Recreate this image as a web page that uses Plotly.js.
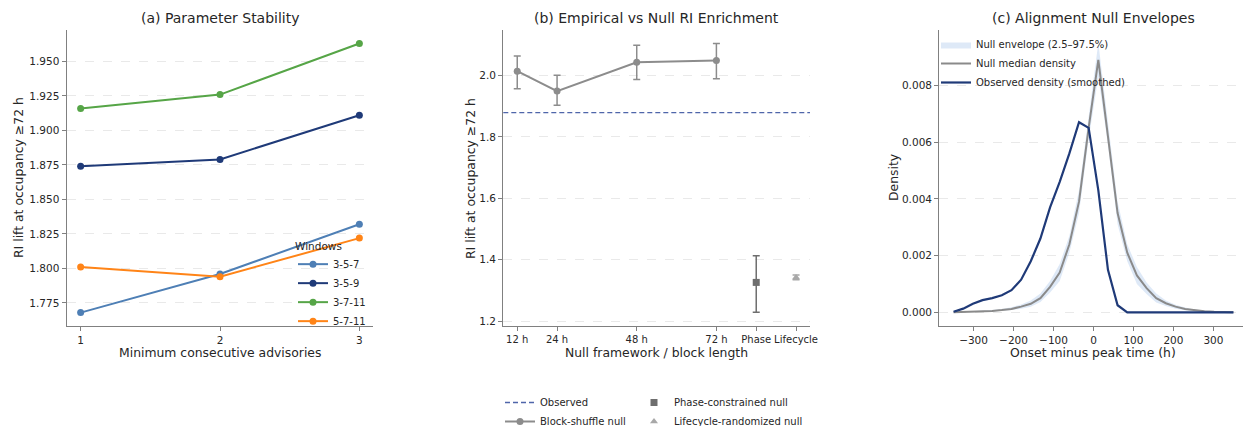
<!DOCTYPE html>
<html>
<head>
<meta charset="utf-8">
<script src="https://cdn.plot.ly/plotly-3.0.1.min.js"></script>
<style>html,body{margin:0;padding:0;background:#fff;}#chart{width:1243px;height:426px;}</style>
</head>
<body>
<div id="chart"></div>
<script>
// ---------- Panel (a) data ----------
const minConsecutive = [1, 2, 3];
const windowNames = ['3-5-7', '3-5-9', '3-7-11', '5-7-11'];
const lift_3_5_7 = [1.768, 1.796, 1.832];
const lift_3_5_9 = [1.874, 1.879, 1.911];
const lift_3_7_11 = [1.916, 1.926, 1.963];
const lift_5_7_11 = [1.801, 1.794, 1.822];

// ---------- Panel (b) data ----------
const nullTickPositions = [12, 24, 48, 72, 84, 96];
const nullTickLabels = ['12 h', '24 h', '48 h', '72 h', 'Phase', 'Lifecycle'];
const blockLengths = [12, 24, 48, 72];
const blockMean = [2.014, 1.949, 2.043, 2.049];
const blockLow = [1.957, 1.903, 1.987, 1.989];
const blockHigh = [2.063, 2.001, 2.098, 2.104];
const observedLift = 1.879;
const phasePos = [84];
const phaseMean = [1.326];
const phaseLow = [1.229];
const phaseHigh = [1.413];
const lifecyclePos = [96];
const lifecycleMean = [1.342];
const lifecycleLow = [1.335];
const lifecycleHigh = [1.350];

// ---------- Panel (c) data ----------
const onsetHours = [-350, -325.9, -301.7, -277.6, -253.4, -229.3, -205.2, -181.0, -156.9, -132.8,
  -108.6, -84.5, -60.3, -36.2, -12.1, 12.1, 36.2, 60.3, 84.5, 108.6,
  132.8, 156.9, 181.0, 205.2, 229.3, 253.4, 277.6, 301.7, 325.9, 350];
const observedDensity = [0.00002, 0.00013, 0.0003, 0.00043, 0.0005, 0.0006, 0.00078, 0.00115, 0.0018, 0.0026,
  0.0037, 0.0046, 0.0056, 0.0067, 0.0065, 0.0043, 0.0015, 0.00025, 0, 0,
  0, 0, 0, 0, 0, 0, 0, 0, 0, 0];
const nullMedian = [0, 0.00001, 0.00002, 0.00003, 0.00005, 0.00008, 0.00012, 0.0002, 0.0003, 0.0005,
  0.0009, 0.0014, 0.0024, 0.0039, 0.0065, 0.0089, 0.0063, 0.0035, 0.0021, 0.0013,
  0.00085, 0.0005, 0.00032, 0.0002, 0.00012, 0.00007, 0.00004, 0.00002, 0.00001, 0];
const nullHigh = [0, 0.00002, 0.00003, 0.00005, 0.00008, 0.00012, 0.00018, 0.00028, 0.00042, 0.00066,
  0.0011, 0.0017, 0.0027, 0.0043, 0.0069, 0.0095, 0.0067, 0.0039, 0.0024, 0.0016,
  0.00105, 0.00066, 0.00042, 0.00027, 0.00017, 0.0001, 0.00006, 0.00003, 0.00002, 0.00001];
const nullLow = [0, 0, 0.00001, 0.00002, 0.00003, 0.00005, 0.00008, 0.00013, 0.0002, 0.00036,
  0.0007, 0.0011, 0.0021, 0.0035, 0.0061, 0.0083, 0.0059, 0.0031, 0.0018, 0.001,
  0.00065, 0.00035, 0.00022, 0.00013, 0.00007, 0.00004, 0.00002, 0.00001, 0, 0];

// ---------- geometry helpers ----------
const W = 1243, H = 426;
const px = v => v / W;
const py = v => 1 - v / H;
const FONT = 'DejaVu Sans, Liberation Sans, sans-serif';
const TXT = '#262626';
const SPINE = '#808080';

const colors = {
  '3-5-7': '#4e7fb5',
  '3-5-9': '#1f3a78',
  '3-7-11': '#56a547',
  '5-7-11': '#ff8417'
};
const seriesA = [lift_3_5_7, lift_3_5_9, lift_3_7_11, lift_5_7_11];

const traces = [];
windowNames.forEach((nm, i) => {
  traces.push({
    type: 'scatter', mode: 'lines+markers', x: minConsecutive, y: seriesA[i],
    name: nm, xaxis: 'x', yaxis: 'y', legend: 'legend',
    line: {color: colors[nm], width: 2}, marker: {color: colors[nm], size: 7}
  });
});

const diff = (a, b) => a.map((v, i) => v - b[i]);

traces.push({
  type: 'scatter', mode: 'lines+markers', x: blockLengths, y: blockMean,
  name: 'Block-shuffle null', xaxis: 'x2', yaxis: 'y2', legend: 'legend3', legendrank: 2,
  line: {color: '#8c8c8c', width: 2}, marker: {color: '#8c8c8c', size: 7},
  error_y: {type: 'data', symmetric: false, array: diff(blockHigh, blockMean), arrayminus: diff(blockMean, blockLow),
    color: '#8c8c8c', thickness: 1.5, width: 3.5}
});
traces.push({
  type: 'scatter', mode: 'markers', x: phasePos, y: phaseMean,
  name: 'Phase-constrained null', xaxis: 'x2', yaxis: 'y2', legend: 'legend4', legendrank: 1,
  marker: {color: '#6e6e6e', size: 7, symbol: 'square'},
  error_y: {type: 'data', symmetric: false, array: diff(phaseHigh, phaseMean), arrayminus: diff(phaseMean, phaseLow),
    color: '#6e6e6e', thickness: 1.5, width: 3.5}
});
traces.push({
  type: 'scatter', mode: 'markers', x: lifecyclePos, y: lifecycleMean,
  name: 'Lifecycle-randomized null', xaxis: 'x2', yaxis: 'y2', legend: 'legend4', legendrank: 2,
  marker: {color: '#a8a8a8', size: 7, symbol: 'triangle-up'},
  error_y: {type: 'data', symmetric: false, array: diff(lifecycleHigh, lifecycleMean), arrayminus: diff(lifecycleMean, lifecycleLow),
    color: '#a8a8a8', thickness: 1.5, width: 3.5}
});

traces.push({
  type: 'scatter', mode: 'lines', x: onsetHours, y: nullLow, xaxis: 'x3', yaxis: 'y3',
  line: {width: 0, color: 'rgba(0,0,0,0)'}, showlegend: false, hoverinfo: 'skip'
});
traces.push({
  type: 'scatter', mode: 'lines', x: onsetHours, y: nullHigh, xaxis: 'x3', yaxis: 'y3',
  fill: 'tonexty', fillcolor: 'rgba(160,192,232,0.35)', line: {width: 0, color: 'rgba(0,0,0,0)'},
  name: 'Null envelope (2.5–97.5%)', legend: 'legend2', legendrank: 1
});
traces.push({
  type: 'scatter', mode: 'lines', x: onsetHours, y: nullMedian, xaxis: 'x3', yaxis: 'y3',
  line: {color: '#8a8a8a', width: 2}, name: 'Null median density', legend: 'legend2', legendrank: 2
});
traces.push({
  type: 'scatter', mode: 'lines', x: onsetHours, y: observedDensity, xaxis: 'x3', yaxis: 'y3',
  line: {color: '#1f3a78', width: 2.2}, name: 'Observed density (smoothed)', legend: 'legend2', legendrank: 3
});

const yDom = [py(326), py(30)];
const axBase = {
  showline: true, linecolor: SPINE, linewidth: 1.2, ticks: 'outside', ticklen: 4,
  tickcolor: SPINE, tickwidth: 1, tickfont: {size: 10.5, color: TXT, family: FONT},
  zeroline: false, showgrid: false, mirror: false, fixedrange: true, tickangle: 0
};
const yGrid = {showgrid: true, gridcolor: '#e4e4e4', griddash: 'dash', gridwidth: 0.8};

const legendBase = {
  bgcolor: 'rgba(0,0,0,0)', borderwidth: 0, font: {size: 10, color: TXT, family: FONT},
  xanchor: 'left', yanchor: 'top', traceorder: 'normal', orientation: 'v'
};

function ann(text, x, y, size, angle) {
  return {text: text, x: px(x), y: py(y), xref: 'paper', yref: 'paper', showarrow: false,
    xanchor: 'center', yanchor: 'middle', textangle: angle || 0,
    font: {size: size, color: TXT, family: FONT}};
}

const layout = {
  width: W, height: H, margin: {l: 0, r: 0, t: 0, b: 0, autoexpand: false},
  paper_bgcolor: '#fff', plot_bgcolor: '#fff',
  font: {family: FONT, color: TXT},
  xaxis: Object.assign({}, axBase, {domain: [px(66.7), px(373.3)], range: [0.9, 3.1],
    tickvals: minConsecutive, anchor: 'y'}),
  yaxis: Object.assign({}, axBase, yGrid, {domain: yDom, range: [1.7583, 1.9728], dtick: 0.025,
    tickformat: '.3f', anchor: 'x'}),
  xaxis2: Object.assign({}, axBase, {domain: [px(503.3), px(810)], range: [7.8, 100.2],
    tickvals: nullTickPositions, ticktext: nullTickLabels, anchor: 'y2',
    tickfont: {size: 10, color: TXT, family: FONT}}),
  yaxis2: Object.assign({}, axBase, yGrid, {domain: yDom, range: [1.184, 2.148], dtick: 0.2,
    tickformat: '.1f', anchor: 'x2'}),
  xaxis3: Object.assign({}, axBase, {domain: [px(939.3), 1], range: [-385.7, 374],
    tickvals: [-300, -200, -100, 0, 100, 200, 300], anchor: 'y3'}),
  yaxis3: Object.assign({}, axBase, yGrid, {domain: yDom, range: [-0.000482, 0.00995], dtick: 0.002,
    tickformat: '.3f', anchor: 'x3'}),
  shapes: [{
    type: 'line', xref: 'x2 domain', yref: 'y2', x0: 0, x1: 1, y0: observedLift, y1: observedLift,
    line: {color: '#4f66aa', width: 1.3, dash: '5px,3px'},
    showlegend: true, name: 'Observed', legend: 'legend3', legendrank: 1
  }],
  legend: Object.assign({}, legendBase, {x: px(293), y: py(236),
    title: {text: 'Windows', font: {size: 10.5, color: TXT, family: FONT}}}),
  legend2: Object.assign({}, legendBase, {x: px(936), y: py(30)}),
  legend3: Object.assign({}, legendBase, {x: px(500), y: py(388)}),
  legend4: Object.assign({}, legendBase, {x: px(634), y: py(388)}),
  annotations: [
    ann('(a) Parameter Stability', 220, 18, 14),
    ann('(b) Empirical vs Null RI Enrichment', 656.5, 18, 14),
    ann('(c) Alignment Null Envelopes', 1093.3, 18, 14),
    ann('RI lift at occupancy ≥72 h', 18, 178, 12.4, -90),
    ann('RI lift at occupancy ≥72 h', 470, 178, 12.4, -90),
    ann('Density', 893, 178, 12.4, -90),
    ann('Minimum consecutive advisories', 220, 352, 12.4),
    ann('Null framework / block length', 656.5, 352, 12.4),
    ann('Onset minus peak time (h)', 1093.3, 352, 12.4)
  ]
};

Plotly.newPlot('chart', traces, layout, {staticPlot: true, displayModeBar: false});
</script>
</body>
</html>
